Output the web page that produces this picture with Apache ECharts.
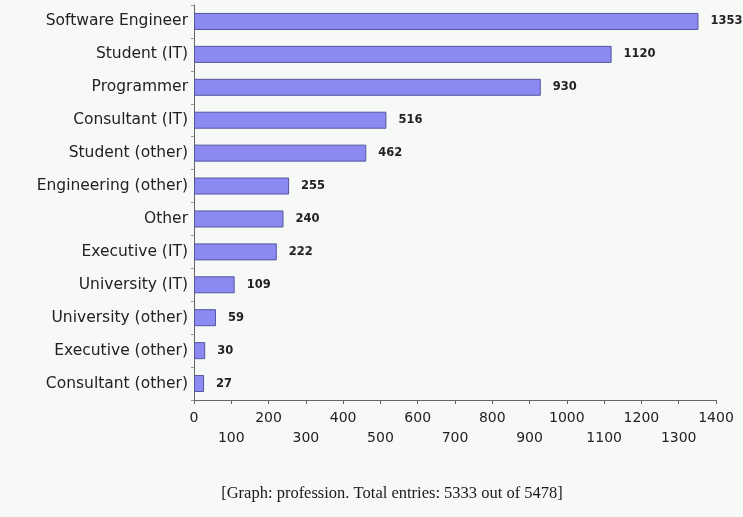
<!DOCTYPE html>
<html>
<head>
<meta charset="utf-8">
<script src="https://cdn.jsdelivr.net/npm/echarts@6/dist/echarts.min.js"></script>
<style>
html,body{margin:0;padding:0;background:#f6f9f6;}
#c{width:743px;height:517px;}
</style>
</head>
<body>
<div id="c"></div>
<script>
const categories = ["Software Engineer","Student (IT)","Programmer","Consultant (IT)","Student (other)","Engineering (other)","Other","Executive (IT)","University (IT)","University (other)","Executive (other)","Consultant (other)"];
const counts = [1353,1120,930,516,462,255,240,222,109,59,30,27];
const axisMin = 0;
const axisMax = 1400;
const axisStep = 100;
const caption = "[Graph: profession. Total entries: 5333 out of 5478]";

const chart = echarts.init(document.getElementById('c'), null, {renderer:'canvas'});
chart.setOption({
  backgroundColor:'#f6f9f6',
  animation:false,
  graphic:[{
    type:'text', x:392, y:494,
    style:{text:caption, font:'16.5px "Liberation Serif"', fill:'#1a1a1a', textAlign:'center', textVerticalAlign:'middle'}
  }],
  grid:{left:194, right:27, top:5, bottom:117, containLabel:false},
  xAxis:{
    type:'value', min:axisMin, max:axisMax, interval:axisStep,
    splitLine:{show:false},
    axisLine:{show:true, lineStyle:{color:'#666', width:1}},
    axisTick:{show:true, length:4, lineStyle:{color:'#666'}},
    axisLabel:{
      fontFamily:'DejaVu Sans', fontSize:14, color:'#222', margin:8, lineHeight:20,
      formatter:function(v){ return (Math.round(v/axisStep)%2===1) ? '\n'+v : String(v); }
    }
  },
  yAxis:{
    type:'category', data:categories, inverse:true,
    axisLine:{show:true, lineStyle:{color:'#666', width:1}},
    axisTick:{show:true, length:3, lineStyle:{color:'#999'}},
    axisLabel:{fontFamily:'DejaVu Sans', fontSize:15.5, color:'#222', margin:6}
  },
  series:[{
    type:'bar', data:counts, barWidth:17,
    itemStyle:{color:'#8a8af2', borderColor:'#55559e', borderWidth:1},
    label:{show:true, position:'right', distance:12, fontFamily:'DejaVu Sans', fontSize:11.5, fontWeight:'bold', color:'#222'}
  }]
});
</script>
</body>
</html>
